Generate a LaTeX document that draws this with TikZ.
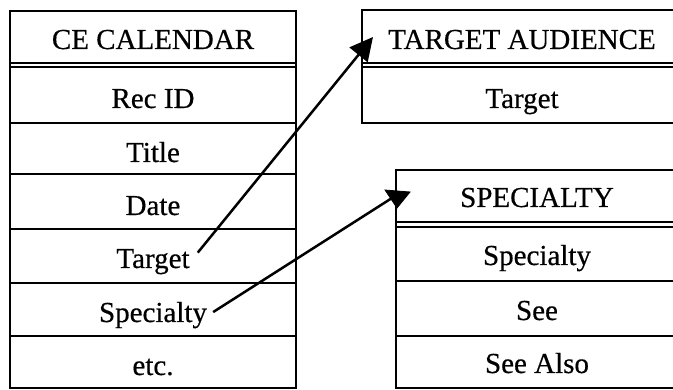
\documentclass[tikz,border=0pt]{standalone}
\usepackage{fontspec}
\setmainfont{Liberation Serif}
\newfontfamily\tabfont[FakeBold=0.5]{Liberation Serif}
\usetikzlibrary{arrows.meta}
\begin{document}
\begin{tikzpicture}[x=1pt,y=-1pt,
  boxline/.style={line width=2.5pt},
  dbl/.style={line width=1.8pt},
  txt/.style={font=\tabfont\fontsize{29}{32}\selectfont, anchor=base, inner sep=1pt},
  conn/.style={line width=2.5pt, line join=round},
  headfill/.style={fill=black, draw=black, line width=0.8pt, line join=miter}]
\useasboundingbox (0,0) rectangle (673,390);
\begin{scope}
\clip (0,0) rectangle (673,390);
% CE CALENDAR table
\draw[boxline] (10,11) rectangle (296,388);
\draw[dbl] (10,63) -- (296,63) (10,67) -- (296,67);
\draw[boxline] (10,123) -- (296,123) (10,174) -- (296,174) (10,229) -- (296,229)
  (10,283) -- (296,283) (10,336) -- (296,336);
% TARGET AUDIENCE table
\draw[boxline] (362,10) rectangle (682,123);
\draw[dbl] (362,63) -- (682,63) (362,67) -- (682,67);
% SPECIALTY table
\draw[boxline] (396,170) rectangle (678,388);
\draw[dbl] (396,222) -- (678,222) (396,227) -- (678,227);
\draw[boxline] (396,281) -- (678,281) (396,336) -- (678,336);
\end{scope}
% texts
\node[txt] (ce)  at (153,49)  {CE CALENDAR};
\node[txt] (rec) at (153,108) {Rec ID};
\node[txt] (tit) at (153,162) {Title};
\node[txt] (dat) at (153,215) {Date};
\node[txt] (tgt) at (153,268) {Target};
\node[txt] (spc) at (153,322) {Specialty};
\node[txt] (etc) at (153,375) {etc.};
\node[txt] (ta)  at (522,49)  {TARGET AUDIENCE};
\node[txt] (tat) at (522,108) {Target};
\node[txt] (sp)  at (537,207) {SPECIALTY};
\node[txt] (sps) at (537,265) {Specialty};
\node[txt] (spe) at (537,320) {See};
\node[txt] (spa) at (537,373) {See Also};
% connectors
\coordinate (h1) at (373,37);
\coordinate (k2) at (392,198);
\coordinate (h2) at (397,208);
\draw[conn, -{Triangle[length=23pt,width=23pt]}] ([xshift=7pt,yshift=9pt]tgt.east) -- (h1);
\draw[conn] ([xshift=5pt,yshift=3pt]spc.east) -- (k2);
\filldraw[headfill] (h2) -- ++(-12,-18) -- ++(25,2) -- cycle;
\end{tikzpicture}
\end{document}
